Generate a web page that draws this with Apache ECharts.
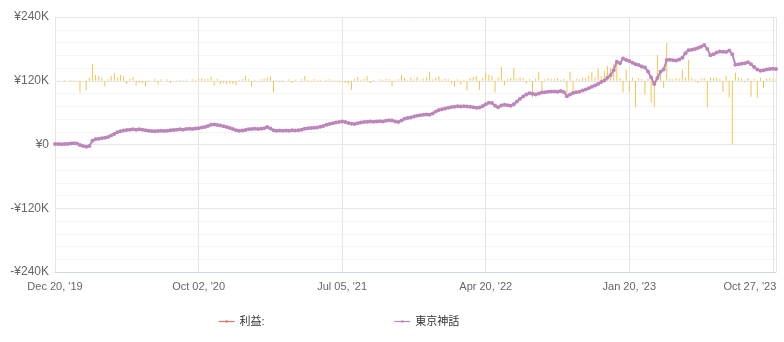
<!DOCTYPE html>
<html>
<head>
<meta charset="utf-8">
<script src="https://cdn.jsdelivr.net/npm/echarts@6/dist/echarts.min.js"></script>
<style>html,body{margin:0;padding:0;background:#fff}#c{width:784px;height:342px}</style>
</head>
<body>
<div id="c"></div>
<script>
// x tick labels (every 46th trading index)
const xTickLabels = ["Dec 20, '19", "Oct 02, '20", "Jul 05, '21", "Apr 20, '22", "Jan 20, '23", "Oct 27, '23"];
const tickStep = 46;
const legendNames = ["利益:", "東京神話"];
// cumulative value of 東京神話 (thousand yen)
const lineValues = [
  1, 1, 0.5, 1, 1, 2, 2.5, 2, -1, -3,
  -4, -3, 7, 10, 11, 12, 12.5, 14, 17, 20,
  23, 25, 26.5, 27.5, 28, 28.5, 28, 28.5, 28, 27,
  26, 25.5, 25, 25.5, 26, 25.5, 26, 27, 27.5, 28,
  28.5, 28, 29, 29.5, 29, 30, 30.5, 32, 33, 35,
  37, 37.5, 36.5, 36, 34.5, 33, 31, 29, 27, 26,
  26.5, 27.5, 28.5, 29, 29.5, 29, 29.5, 30.5, 33, 30,
  27, 26, 26.5, 26, 26.5, 26, 27, 26.5, 27, 28,
  29.5, 30.5, 31, 31.5, 32, 33.5, 35, 37, 38.5, 40,
  41.5, 42.5, 43.5, 42.5, 40.5, 39, 38.5, 40, 41.5, 42.5,
  43, 43.5, 43, 43.5, 44, 43.5, 44.5, 45.5, 45, 43.5,
  42.5, 45, 48.5, 50, 51, 52.5, 54, 55, 56, 56.5,
  56, 58.5, 62, 65, 66.5, 68, 69, 70.5, 71, 72,
  71.5, 72, 71.5, 71, 70, 69, 69.5, 72, 76, 78.5,
  78, 73, 70, 73.5, 75, 74, 73, 76, 81, 86,
  90.5, 94, 96.5, 95.5, 94, 96, 98, 98.5, 99.5, 100,
  100, 99.5, 100.5, 99, 91, 94, 97, 98.5, 99.5, 101.5,
  103.5, 106, 108.5, 111, 114, 117.5, 120.5, 125.5, 131, 140,
  156, 153, 162, 159, 157, 154, 151, 149.5, 147, 145,
  137.5, 126, 114, 125, 137, 141, 159, 159.5, 158.5, 158,
  160, 163.5, 172, 177.5, 178.5, 180, 181.5, 184, 187.5, 180,
  168, 170, 173, 175, 174.5, 174, 177, 170, 150, 151,
  152, 153, 155, 151, 146, 141, 139, 140, 141, 142,
  142.5, 142
];
// per-period profit bars (thousand yen)
const barValues = [
  0, 1, 0, 1.5, 0, 1.5, 1, -2, -22, 0,
  -18, 5, 32, 11, 9, 6, -11, 3, 9, 15,
  6, 11, 9, -6, 4, 7, -9, -4, -5, -11,
  2, 0, 3, -7, 3, 0, 3, -4, 0, 1,
  2, 1, 2.5, 0, 3, 2, 4, 5, 3, 4,
  8, -9, 4, -6, -4, -7, -5, -6, -8, 2,
  3, 9, 3, -11, 2, 0, 3, 4, 6, 9,
  -22, 2, -3, 2, 0, 3, -4, 2, 0, 3,
  9, 2, -2, 3, 1, 2, 0, 2, 3, 1,
  2, -3, 2, -4, -6, -17, 3, 7, 2, 4,
  9, -4, 2, 0, 3, 2, 4, 3, -11, 2,
  3, 11, 5, 2, 6, 3, 7, 2, 4, 6,
  17, 3, 6, 9, 2, 4, 3, -5, -11, 3,
  -7, 2, -18, 5, 7, 9, -17, 5, 15, 11,
  9, -22, 6, 26, -9, 4, 5, 24, 4, 6,
  5, -5, 3, -32, 4, 17, -21, 3, 5, 4,
  3, 5, 2, 4, -26, 17, -22, 4, 3, 6,
  5, 9, 17, 6, 23, 9, 19, 28, 24, 32,
  39, 5, -22, 21, -21, 6, -50, 5, 3, -26,
  4, -41, -50, 49, 17, -13, 71, 4, 3, 5,
  4, 21, 6, 39, 5, 3, -4, 4, 5, -50,
  6, 5, 6, 4, -21, 9, -32, -120, 15, 6,
  4, -3, 5, -30, 4, -32, 6, -13, 4, 5,
  3, 2
];
// y tick values (thousand yen)
const yMin = -240, yMax = 240, yStep = 120;

const FONT = "'Liberation Sans', 'Noto Sans CJK JP', sans-serif";
const chart = echarts.init(document.getElementById('c'), null, {renderer: 'canvas'});
const lastIdx = lineValues.length - 1;
chart.setOption({
  animation: false,
  backgroundColor: '#fff',
  textStyle: {fontFamily: FONT},
  grid: {left: 55, right: 8, top: 17, bottom: 70, containLabel: false},
  legend: {
    data: legendNames,
    left: 213, top: 311,
    itemGap: 129, itemWidth: 16, itemHeight: 3,
    lineStyle: {width: 1.2},
    textStyle: {fontSize: 11, color: '#333', fontFamily: FONT}
  },
  xAxis: {
    type: 'value', min: 0, max: lastIdx, interval: tickStep,
    axisLine: {show: true, onZero: false, lineStyle: {color: '#ccd6eb'}},
    axisTick: {show: false},
    splitLine: {show: true, lineStyle: {color: '#e6e6e6'}},
    axisLabel: {
      fontSize: 11, color: '#666', margin: 9, fontFamily: FONT,
      formatter: function (v) {
        if (v % tickStep !== 0) return '';
        const k = v / tickStep;
        if (k === xTickLabels.length - 1) return '{r|' + xTickLabels[k] + '}';
        return xTickLabels[k] || '';
      },
      rich: {r: {fontSize: 11, color: '#666', padding: [0, 46, 0, 0], fontFamily: FONT}}
    }
  },
  yAxis: [{
    type: 'value', min: yMin, max: yMax, interval: yStep,
    axisLine: {show: true, lineStyle: {color: '#e6e6e6'}},
    axisTick: {show: false},
    splitLine: {show: true, lineStyle: {color: '#e6e6e6'}},
    minorSplitLine: {show: true, lineStyle: {color: '#f5f5f5'}},
    minorTick: {show: false, splitNumber: 5},
    axisLabel: {
      fontSize: 12, color: '#666', margin: 6, fontFamily: FONT,
      formatter: function (v) {
        if (v === 0) return '¥0';
        return (v < 0 ? '-' : '') + '¥' + Math.abs(v) + 'K';
      }
    }
  }, {
    type: 'value', min: -360, max: 120, show: false,
    splitLine: {show: false}
  }],
  series: [
    {
      name: 'profitBars', type: 'bar', yAxisIndex: 1, barWidth: 1,
      itemStyle: {color: '#f2c54e'}, z: 1,
      data: barValues.map((v, i) => [i, v])
    },
    {
      name: legendNames[0], type: 'line', data: [],
      symbol: 'circle', symbolSize: 3,
      itemStyle: {color: '#e07070'}, lineStyle: {color: '#e07070', width: 1}
    },
    {
      name: legendNames[1], type: 'line', z: 3,
      symbol: 'circle', symbolSize: 4, showSymbol: true,
      itemStyle: {color: '#bc86ba'}, lineStyle: {color: '#bc86ba', width: 2},
      data: lineValues.map((v, i) => [i, v])
    }
  ]
});
</script>
</body>
</html>
